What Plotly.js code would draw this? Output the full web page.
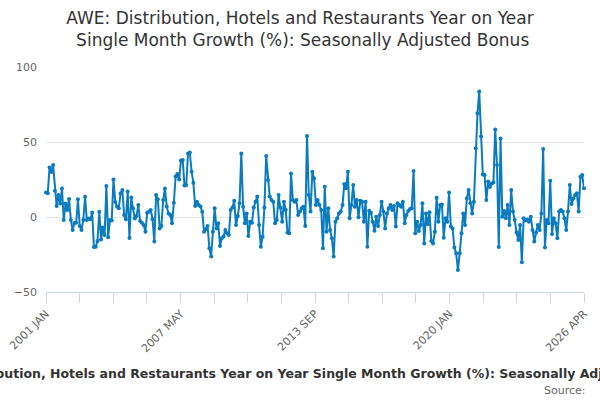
<!DOCTYPE html>
<html>
<head>
<meta charset="utf-8">
<script src="https://cdn.plot.ly/plotly-3.0.1.min.js"></script>
<style>
  html, body { margin: 0; padding: 0; background: #fff; }
  #chart { width: 600px; height: 400px; }
</style>
</head>
<body>
<div id="chart"></div>
<script>
//------------------------------- data ------------------------------------//
var startYear = 2001;
var monthNames = ['JAN','FEB','MAR','APR','MAY','JUN','JUL','AUG','SEP','OCT','NOV','DEC'];

// year on year growth, one value per month, 2001 JAN .. 2026 APR
var growth = [
  // 2001 JAN - 2005 MAR
  16.4, 15.8, 33, 30, 34.7, 17.5, 7.3, 14.7, 9, 19, -2, 9, 4.7, 12, -2, -8.7, -4, -3.8, 11.8, -6,
  -8.7, -2, 13.5, -2, -1, -1.5, 3, -20, -19.8, -16, 3.5, -15, -7, -12, 20.7, -13.5, -2, -2.4, 25, 10,
  7, 5.8, 15.8, 18, 1.3, -1.5, 17, -14, 13, 5.8, -1,
  // 2005 APR - 2009 JUN
  0.7, 8, -2.7, -3.8, -5.3, -9.8, 2.9, 3.5, 4.7, -1.5, -16.4, 14.7, 11.8, -7.6, -6, 11.3, 19, 7, 2.4, 1.3,
  -4.2, 9.5, 27, 28.7, 25, 37.6, 38, 21, 21.3, 42.4, 43, 30.2, 22.9, 7.3, 10.2, 8, 7, 3.5, -9.8, -8.2,
  -6, -20.9, -26.4, -9.8, 5.8, -7.6, -4.2, -19.3, -14.2, -13, -8.7,
  // 2009 JUL - 2013 SEP
  -10.9, -12, 4.7, 6.4, 10.9, -5.3, 0.7, 9.1, 42.4, 6.9, -4.2, 2.4, -12.7, -3.1, -3.8, 6.4, 10.2, 13.6, -5.3, -19.8,
  -13.1, 6.4, 40.7, 24.7, 13.6, 11.3, 10.2, -4.2, -2, 14.7, 6.4, -3.1, 10.2, 4.7, -10.4, -10.9, 29, 11.3, 10.2, 11.3,
  1.3, 3.6, 5.8, 6.9, -6, 54, 14.7, 3.6, 30.2, 25.8, 8,
  // 2013 OCT - 2017 OCT
  11.3, 8, 4.7, -20.9, 20.2, -9.8, 5.8, -8.7, -14.2, -26.4, -3.1, -0.9, 2.4, 3.6, 8, 22, 19.1, 30.2, -0.9, 8,
  21.3, 6.9, 11.3, -0.2, 10.9, 10.2, -3.1, 10.2, -19.8, 4.2, 2.9, -3.1, -9.1, 0.2, -6, 1.3, 10.2, 3.6, -7.6, 2.4,
  5.8, 8, 4.7, 7.3, -6.4, 9.1, 8, 6.9, 10.2,
  // 2017 NOV - 2022 FEB
  -4.2, 1.3, 4, 5.3, 5.8, 30.7, -10.9, -3.1, -9.3, -5.3, 9.1, -17.6, 2.4, -4.9, 3.1, -16, -17.6, -9.8, 12.9, -3.1,
  8, 8.4, -13.8, -0.9, -3.1, 16.4, -6.4, -7.6, -20.4, -24.2, -35.3, -24.2, -10.9, 2.4, -5.3, 12.4, 18, 9.1, 2.4, 10.2,
  45.8, 69.1, 83.6, 53.6, 28.4, 28, 11.3, 23.6, 20, 22.4, 23, 58.4,
  // 2022 MAR - 2026 APR
  34.7, -20, 52.4, 0.2, 4, -0.9, 8, -5.3, 18, 3.6, -2, -10.4, -15.3, -5.3, -30.2, -0.9, -2.4, -1.6, -3.1, 0.2,
  -8.7, -16.4, -10.4, -5.3, -8.7, 2.4, 45.3, -20.4, -2, -4.2, 24.2, -11.3, -0.9, -4.2, -14.2, 3.6, 4.7, 3.6, -0.9, -8.7,
  3.6, 21.3, 8.7, 12.4, 14.7, 15.8, 3.6, 26.9, 28, 19.1
];

var tickLabels = ['2001 JAN', '2007 MAY', '2013 SEP', '2020 JAN', '2026 APR'];
var yTicks = [-50, 0, 50, 100];

//------------------------------- build -----------------------------------//
var idx = [], months = [];
for (var i = 0; i < growth.length; i++) {
  idx.push(i);
  months.push((startYear + Math.floor(i / 12)) + ' ' + monthNames[i % 12]);
}

// 16 evenly spaced tick marks, every 4th one labelled
var last = growth.length - 1;
var tickvals = [], ticktext = [];
for (var t = 0; t <= 16; t++) {
  tickvals.push(t * last / 16);
  ticktext.push(t % 4 === 0 ? tickLabels[t / 4] : '');
}

var trace = {
  x: idx,
  y: growth,
  text: months,
  type: 'scatter',
  mode: 'lines+markers',
  line: {color: '#0a7bbf', width: 2},
  marker: {color: '#0a7bbf', size: 4},
  cliponaxis: false,
  hovertemplate: '%{text}: %{y}<extra></extra>'
};

var layout = {
  width: 600,
  height: 400,
  margin: {l: 46, r: 16, t: 67, b: 108},
  paper_bgcolor: '#fff',
  plot_bgcolor: '#fff',
  font: {family: 'DejaVu Sans', color: '#666666', size: 11},
  showlegend: false,
  title: {
    text: 'AWE: Distribution, Hotels and Restaurants Year on Year<br> Single Month Growth (%): Seasonally Adjusted Bonus',
    font: {family: 'DejaVu Sans', size: 17, color: '#333333'},
    x: 0.5, xanchor: 'center',
    y: 0.94, yanchor: 'top'
  },
  xaxis: {
    range: [0, last],
    tickvals: tickvals,
    ticktext: ticktext,
    tickangle: -45,
    ticks: 'outside',
    ticklen: 10,
    tickcolor: '#ccd6eb',
    showline: true,
    linecolor: '#ccd6eb',
    showgrid: false,
    zeroline: false,
    tickfont: {size: 11, color: '#666666'}
  },
  yaxis: {
    range: [-50, 100],
    tickvals: yTicks,
    gridcolor: '#e6e6e6',
    zeroline: false,
    showline: false,
    ticks: '',
    ticklabelstandoff: 8,
    tickfont: {size: 11, color: '#666666'}
  },
  annotations: [
    {
      text: '<b>AWE: Distribution, Hotels and Restaurants Year on Year Single Month Growth (%): Seasonally Adjusted Bonus</b>',
      xref: 'paper', yref: 'paper', x: 0.478, y: -0.36,
      xanchor: 'center', yanchor: 'middle', showarrow: false,
      font: {family: 'DejaVu Sans', size: 12.5, color: '#333333'}
    },
    {
      text: 'Source:',
      xref: 'paper', yref: 'paper', x: 1.007, y: -0.436,
      xanchor: 'right', yanchor: 'middle', showarrow: false,
      font: {family: 'DejaVu Sans', size: 11, color: '#666666'}
    }
  ]
};

var config = {responsive: false, displayModeBar: false};
Plotly.newPlot('chart', [trace], layout, config);
</script>
</body>
</html>
